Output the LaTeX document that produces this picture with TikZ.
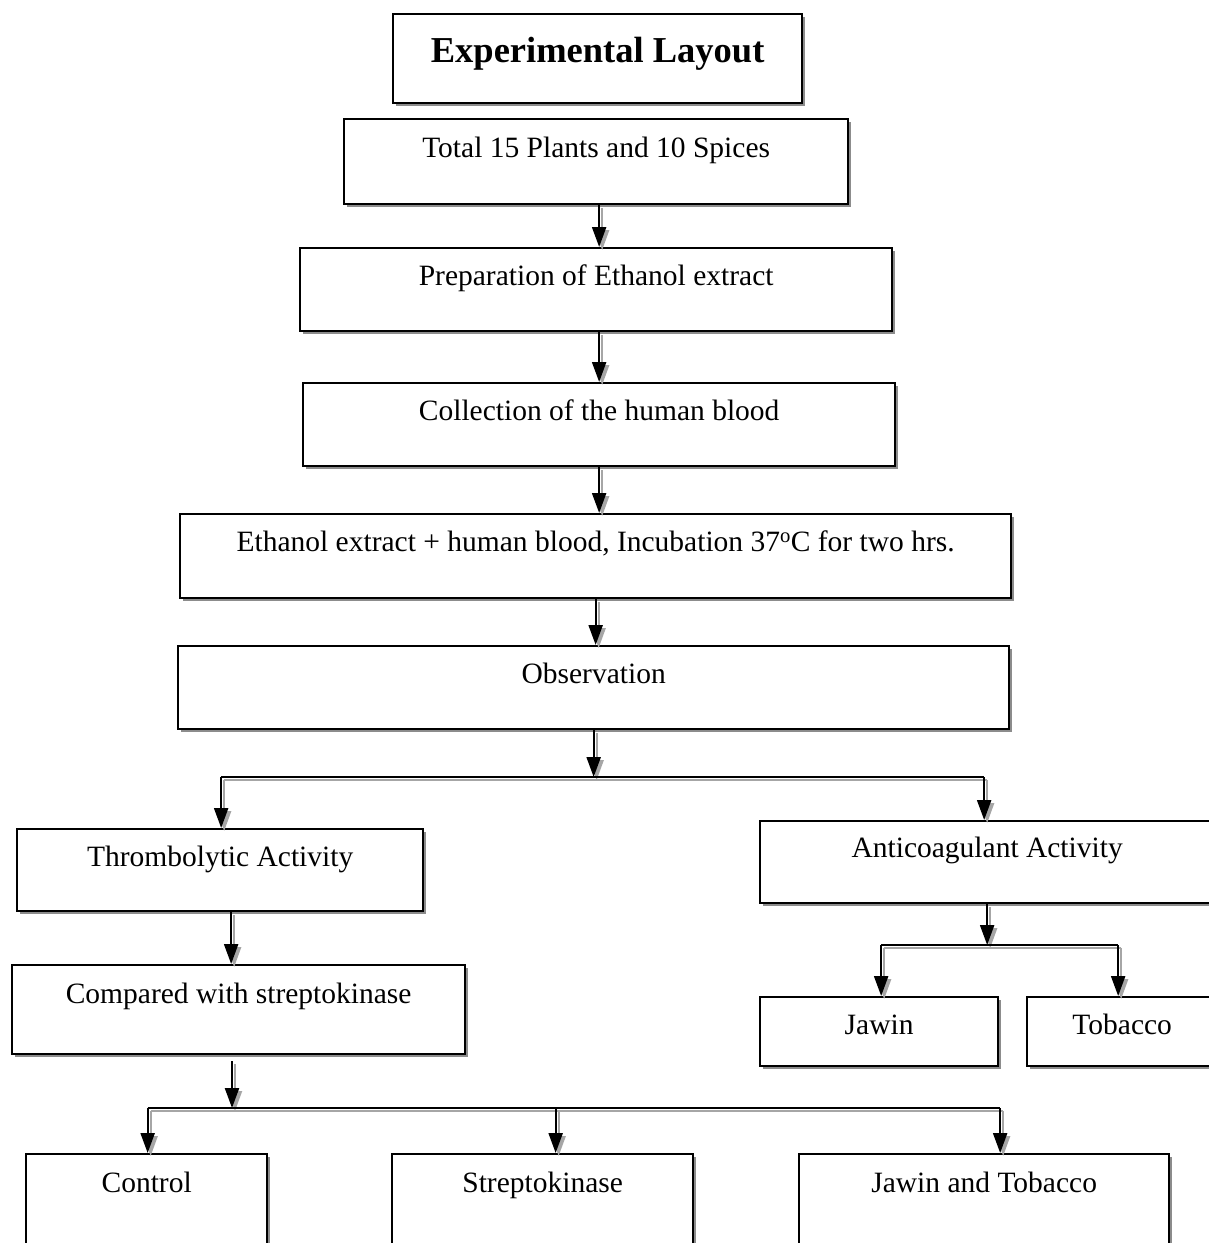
\documentclass[tikz,border=0pt]{standalone}
\usepackage{fontspec}
\setmainfont{Liberation Serif}
\usetikzlibrary{arrows.meta,shadows,calc}
\begin{document}
\begin{tikzpicture}[x=1pt,y=-1pt,
  box/.style={draw=black, line width=2.3pt, fill=white, inner sep=0pt, anchor=north west,
    drop shadow={shadow xshift=3pt, shadow yshift=-3pt, fill=black!45, opacity=1},
    font=\fontsize{29.5}{32}\selectfont},
  conn/.style={line width=2.3pt, -{Triangle[length=20pt,width=14pt]},
    preaction={draw=black!35, line width=2pt, -{Triangle[length=20pt,width=14pt]}, transform canvas={shift={(3pt,-3pt)}}}},
  plain/.style={line width=2.3pt, preaction={draw=black!35, line width=2pt, transform canvas={shift={(3pt,-3pt)}}}}
]
\useasboundingbox[fill=white] (0,0) rectangle (1209,1243);

\node[box, minimum width=409, text height=48, text depth=41, font=\fontsize{36.5}{40}\selectfont\bfseries] (title) at (392,13) {Experimental Layout};
\node[box, minimum width=504, text height=38, text depth=47] (tot) at (343,118) {Total 15 Plants and 10 Spices};
\node[box, minimum width=592, text height=37, text depth=46] (prep) at (299,247) {Preparation of Ethanol extract};
\node[box, minimum width=592, text height=37, text depth=46] (coll) at (302,382) {Collection of the human blood};
\node[box, minimum width=831, text height=37, text depth=47] (eth) at (179,513) {Ethanol extract + human blood, Incubation 37$^{\mathrm{o}}$C for two hrs.};
\node[box, minimum width=831, text height=37, text depth=46] (obs) at (177,645) {Observation};
\node[box, minimum width=406, text height=37, text depth=45] (thr) at (16,828) {Thrombolytic Activity};
\node[box, minimum width=454, text height=36, text depth=46] (anti) at (759,820) {Anticoagulant Activity};
\node[box, minimum width=453, text height=38, text depth=51] (comp) at (11,964) {Compared with streptokinase};
\node[box, minimum width=238, text height=37, text depth=32] (jaw) at (759,996) {Jawin};
\node[box, minimum width=190, text height=37, text depth=32] (tob) at (1026,996) {Tobacco};
\node[box, minimum width=241, text height=38, text depth=72] (ctrl) at (25,1153) {Control};
\node[box, minimum width=301, text height=38, text depth=72] (strep) at (391,1153) {Streptokinase};
\node[box, minimum width=370, text height=38, text depth=72] (jt) at (798,1153) {Jawin and Tobacco};

\coordinate (j1) at (595,777);
\coordinate (j2) at (985,945);
\coordinate (j3) at (232,1108);
\coordinate (tc) at ($(thr.south)+(11,0)$);
\coordinate (cs) at ($(j3 |- comp.south)+(0,6)$);

\draw[conn] ($(tot.south)+(3,0)$) -- ($(prep.north)+(3,0)$);
\draw[conn] ($(prep.south)+(3,0)$) -- ($(coll.north)+(0,0)$);
\draw[conn] (coll.south) -- (coll.south |- eth.north);
\draw[conn] (eth.south) -- (eth.south |- obs.north);
\draw[conn] (obs.south) -- (obs.south |- j1);
\draw[plain] ($(thr.north |- j1)+(1,0)$) -- ($(anti.north |- j1)+(-3,0)$);
\draw[conn] ($(thr.north |- j1)+(1,0)$) -- ($(thr.north)+(1,0)$);
\draw[conn] ($(anti.north |- j1)+(-3,0)$) -- ($(anti.north)+(-3,0)$);
\draw[conn] (tc) -- (tc |- comp.north);
\draw[conn] (anti.south) -- (anti.south |- j2);
\draw[plain] ($(jaw.north |- j2)+(2,0)$) -- ($(tob.north |- j2)+(-4,0)$);
\draw[conn] ($(jaw.north |- j2)+(2,0)$) -- ($(jaw.north)+(2,0)$);
\draw[conn] ($(tob.north |- j2)+(-4,0)$) -- ($(tob.north)+(-4,0)$);
\draw[conn] (cs) -- (j3);
\draw[plain] ($(ctrl.north |- j3)+(1,0)$) -- ($(jt.north |- j3)+(16,0)$);
\draw[conn] ($(ctrl.north |- j3)+(1,0)$) -- ($(ctrl.north)+(1,0)$);
\draw[conn] ($(strep.north |- j3)+(13,0)$) -- ($(strep.north)+(13,0)$);
\draw[conn] ($(jt.north |- j3)+(16,0)$) -- ($(jt.north)+(16,0)$);
\end{tikzpicture}
\end{document}
